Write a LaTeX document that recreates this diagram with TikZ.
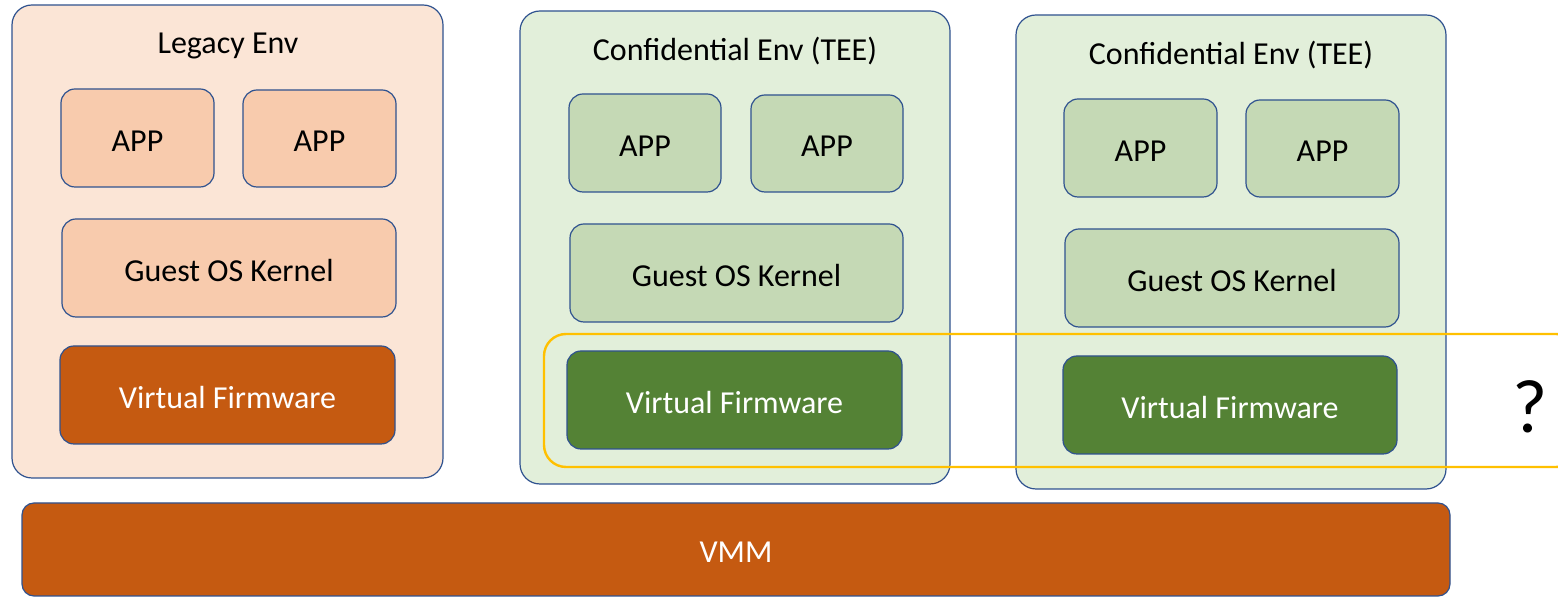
\documentclass[tikz,border=0pt]{standalone}
\usepackage{fontspec}
\setmainfont{Carlito}
\definecolor{edge}{HTML}{2F528F}
\definecolor{legacybg}{HTML}{FBE5D6}
\definecolor{legacybox}{HTML}{F8CBAD}
\definecolor{rust}{HTML}{C55A11}
\definecolor{teebg}{HTML}{E2EFDA}
\definecolor{teebox}{HTML}{C5D9B5}
\definecolor{fwgreen}{HTML}{548235}
\definecolor{gold}{HTML}{FFC000}
\begin{document}
\begin{tikzpicture}[x=0.5pt,y=-0.5pt,
  sz/.style 2 args={minimum width=#1*0.5pt, minimum height=#2*0.5pt, inner sep=0pt},
  env/.style={draw=edge, line width=0.6pt, rounded corners=10pt},
  blk/.style={draw=edge, line width=0.6pt, rounded corners=7pt, font=\fontsize{16}{19}\selectfont, text height=13.3pt, text depth=0pt},
  legacyenv/.style={env, fill=legacybg},
  legacyblk/.style={blk, fill=legacybox},
  teeenv/.style={env, fill=teebg},
  teeblk/.style={blk, fill=teebox},
  rustblk/.style={blk, fill=rust, text=white},
  greenblk/.style={blk, fill=fwgreen, text=white},
  title/.style={font=\fontsize{16}{19}\selectfont, inner sep=0pt}
]
\useasboundingbox (0,0) rectangle (1558,597);
\clip (0,0) rectangle (1558,597);

% Legacy environment
\node[legacyenv, sz={431}{473}] (lenv) at (227.5,241.5) {};
\node[title] (ltitle) at (228,46) {Legacy Env};
\node[legacyblk, sz={153}{98}] (lapp1) at (137.5,138) {APP};
\node[legacyblk, sz={153}{97}] (lapp2) at (319.5,138.5) {APP};
\node[legacyblk, sz={334}{98}] (lgos) at (229,268) {Guest OS Kernel};
\node[rustblk, sz={335}{98}] (lvf) at (227.5,395) {Virtual Firmware};

% First confidential environment
\node[teeenv, sz={430}{473}] (aenv) at (735,247.5) {};
\node[title] (atitle) at (735,51) {Confidential Env (TEE)};
\node[teeblk, sz={152}{98}] (aapp1) at (645,143) {APP};
\node[teeblk, sz={152}{97}] (aapp2) at (827,143.5) {APP};
\node[teeblk, sz={333}{98}] (agos) at (736.5,273) {Guest OS Kernel};
\node[greenblk, sz={335}{98}] (avf) at (734.5,400) {Virtual Firmware};

% Second confidential environment
\node[teeenv, sz={430}{474}] (benv) at (1231,252) {};
\node[title] (btitle) at (1231,55) {Confidential Env (TEE)};
\node[teeblk, sz={153}{98}] (bapp1) at (1140.5,148) {APP};
\node[teeblk, sz={153}{97}] (bapp2) at (1322.5,148.5) {APP};
\node[teeblk, sz={334}{98}] (bgos) at (1232,278) {Guest OS Kernel};
\node[greenblk, sz={334}{98}] (bvf) at (1230,405) {Virtual Firmware};

% Firmware group outline, running past the right edge
\node[draw=gold, line width=1.2pt, rounded corners=11pt, sz={1034}{133}] (fwgroup) at (1061,400.5) {};
\node[font=\fontsize{38}{44}\selectfont, inner sep=0pt] (qmark) at (1530,407) {?};

% Hypervisor
\node[rustblk, rounded corners=6pt, sz={1428}{93}] (vmm) at (736,549.5) {VMM};
\end{tikzpicture}
\end{document}
